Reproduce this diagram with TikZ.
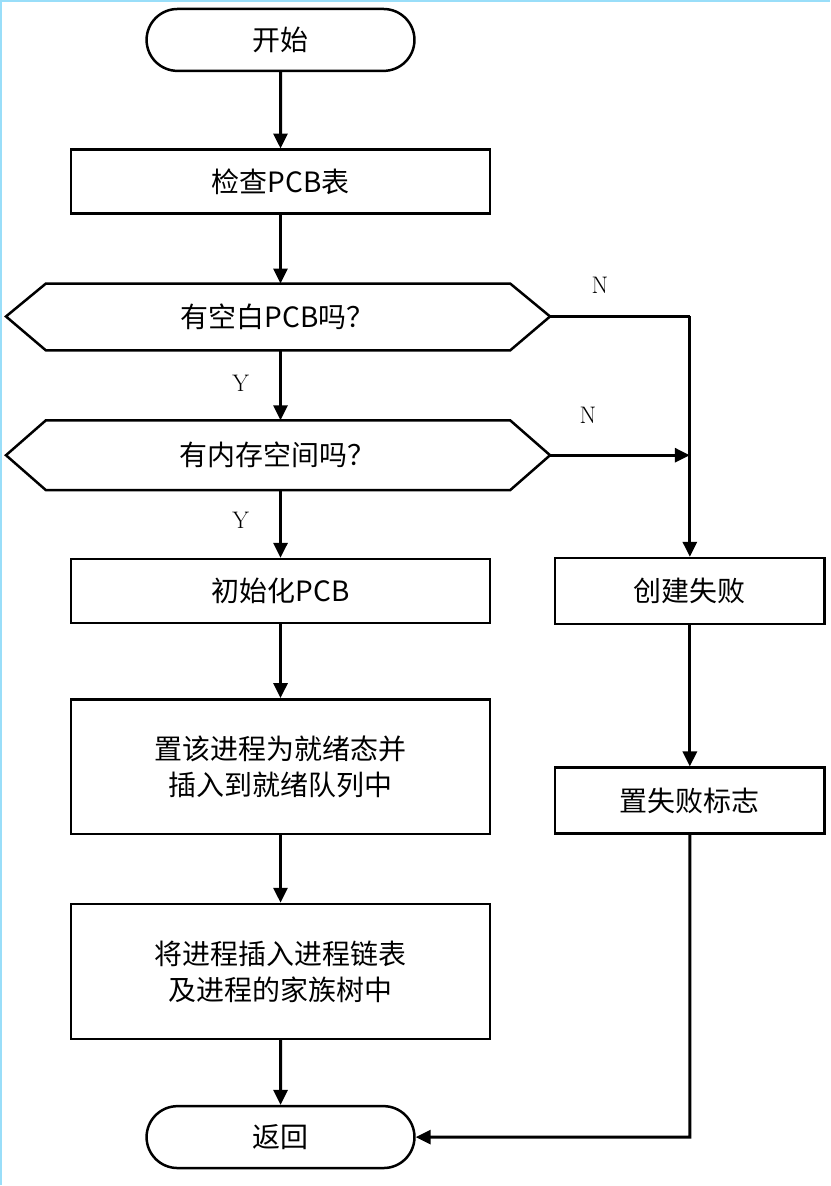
\documentclass[tikz,border=0pt]{standalone}
\usepackage{fontspec}
\newfontfamily\cjk{Noto Sans CJK SC}
\usetikzlibrary{arrows.meta,shapes.misc}
\begin{document}
\begin{tikzpicture}[x=1pt,y=-1pt,
  every node/.style={font=\cjk\fontsize{28}{36}\selectfont},
  proc/.style={draw,line width=2.5pt,minimum width=420pt,minimum height=64pt,align=center},
  side/.style={draw,line width=2.5pt,minimum width=270pt,minimum height=66pt},
  term/.style={draw,line width=2.5pt,rounded rectangle,minimum width=275pt,minimum height=62pt},
  conn/.style={line width=3pt,-{Triangle[length=15pt,width=14pt]}},
  plain/.style={line width=3pt},
  lab/.style={font=\fontsize{24}{28}\selectfont\rmfamily}]
\fill[white] (0,0) rectangle (830,1186);
\draw[cyan!40,line width=2pt] (0,1186) -- (0,0) -- (830,0);
\node[term] (start) at (280,39) {开始};
\node[proc] (chk) at (280,181) {检查PCB表};
\draw[line width=2.5pt] (5,316) -- (45,283) -- (510,283) -- (550,316) -- (510,350) -- (45,350) -- cycle;
\node (d1) at (277,316) {有空白PCB吗？};
\coordinate (d1l) at (550,316);
\coordinate (d1b) at (280,350);
\coordinate (d1t) at (280,283);
\draw[line width=2.5pt] (5,455) -- (45,420) -- (510,420) -- (550,455) -- (510,490) -- (45,490) -- cycle;
\node (d2) at (277,455) {有内存空间吗？};
\coordinate (d2r) at (550,455);
\coordinate (d2b) at (280,490);
\coordinate (d2t) at (280,420);
\node[proc] (init) at (280,591) {初始化PCB};
\node[proc,minimum height=135pt] (ready) at (280,767) {置该进程为就绪态并\\插入到就绪队列中};
\node[proc,minimum height=135pt] (ins) at (280,972) {将进程插入进程链表\\及进程的家族树中};
\node[term] (ret) at (280,1138) {返回};
\node[side] (fail) at (690,591) {创建失败};
\node[side] (flag) at (690,801) {置失败标志};
\coordinate (j1) at (690,316);
\coordinate (j2) at (690,455);
\coordinate (j3) at (690,1138);
\draw[conn] (start) -- (chk);
\draw[conn] (chk) -- (d1t);
\draw[conn] (d1b) -- (d2t);
\draw[conn] (d2b) -- (init);
\draw[conn] (init) -- (ready);
\draw[conn] (ready) -- (ins);
\draw[conn] (ins) -- (ret);
\draw[plain] (d1l) -- (j1);
\draw[conn] (j1) -- (fail);
\draw[conn] (d2r) -- (j2);
\draw[conn] (fail) -- (flag);
\draw[conn] (flag) -- (j3) -- (ret);
\node[lab] (n1) at (600,285) {N};
\node[lab] (n2) at (588,415) {N};
\node[lab] (y1) at (240,383) {Y};
\node[lab] (y2) at (240,520) {Y};
\end{tikzpicture}
\end{document}
